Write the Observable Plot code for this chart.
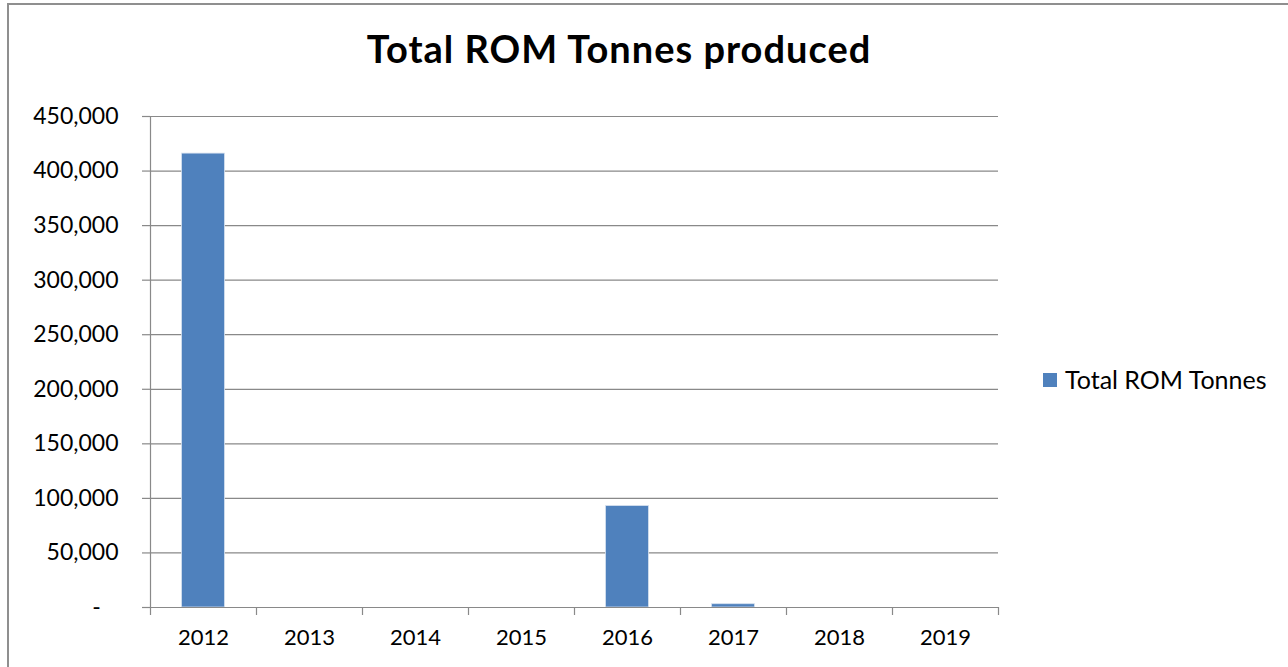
<!DOCTYPE html>
<html>
<head>
<meta charset="utf-8">
<script src="https://cdn.jsdelivr.net/npm/d3@7"></script>
<script src="https://cdn.jsdelivr.net/npm/@observablehq/plot@0.6"></script>
<style>
  html, body { margin: 0; padding: 0; background: #fff; }
  #wrap { position: relative; width: 1288px; height: 667px; overflow: hidden; font-family: Lato, "Open Sans", sans-serif; }
  #border { position: absolute; left: 7px; top: 3px; width: 1400px; height: 800px; border-left: 2px solid #8f8f8f; border-top: 2px solid #8f8f8f; }
  #title { position: absolute; left: 0; width: 1238px; top: 29px; text-align: center; font-weight: bold; font-size: 38px; line-height: 38px; letter-spacing: 1px; color: #000; white-space: nowrap; }
  #legend { position: absolute; left: 1043px; top: 367px; font-size: 25px; line-height: 25px; color: #000; white-space: nowrap; display: flex; align-items: center; }
  #legend .sw { display: inline-block; width: 14px; height: 14px; background: #4f81bd; margin-right: 8px; }
  #chart { position: absolute; left: 0; top: 0; }
</style>
</head>
<body>
<div id="wrap">
  <div id="border"></div>
  <div id="chart"></div>
  <div id="title"></div>
  <div id="legend"><span class="sw"></span><span id="legtext"></span></div>
</div>
<script>
const chartTitle = "Total ROM Tonnes produced";
const seriesName = "Total ROM Tonnes";
const years = ["2012", "2013", "2014", "2015", "2016", "2017", "2018", "2019"];
const tonnes = [416000, 0, 0, 0, 93000, 3000, 0, 0];
const yTicks = [0, 50000, 100000, 150000, 200000, 250000, 300000, 350000, 400000, 450000];

document.getElementById("title").textContent = chartTitle;
document.getElementById("legtext").textContent = seriesName;

const data = years.map((year, i) => ({year, tonnes: tonnes[i]}));
const fmt = d => d === 0 ? "-\u00a0\u00a0\u00a0" : d3.format(",")(d);

const W = 1288, H = 667, ML = 150, MR = 290;
const bw = (W - ML - MR) / years.length;
const axisGray = "#898989";

const chart = Plot.plot({
  width: W,
  height: H,
  marginLeft: ML,
  marginRight: MR,
  marginTop: 116,
  marginBottom: 60,
  x: {type: "band", domain: years, padding: 0, label: null},
  y: {domain: [0, 450000], label: null},
  style: {fontFamily: "Lato, 'Open Sans', sans-serif", fontSize: "22px", background: "transparent", color: "#000", overflow: "visible"},
  marks: [
    Plot.gridY(yTicks, {stroke: axisGray, strokeOpacity: 1, strokeWidth: 1.2}),
    Plot.barY(data, {x: "year", y: "tonnes", fill: "#4f81bd", insetLeft: 31.5, insetRight: 31.5, stroke: "#d6e1ef", strokeWidth: 0.8}),
    Plot.ruleY([0], {stroke: axisGray, strokeWidth: 1.2}),
    Plot.frame({anchor: "left", stroke: axisGray, strokeWidth: 1.2}),
    Plot.axisY(yTicks, {tickSize: 8, tickPadding: 24, tickFormat: fmt, stroke: axisGray, fill: "#000", strokeWidth: 1.2, fontSize: "23px"}),
    Plot.axisX({tickSize: 0, tickPadding: 22, fill: "#000"}),
    Plot.axisX(years, {tickSize: 8, tickFormat: () => "", dx: bw / 2, stroke: axisGray, strokeWidth: 1.2}),
    Plot.axisX([years[0]], {tickSize: 8, tickFormat: () => "", dx: -bw / 2, stroke: axisGray, strokeWidth: 1.2})
  ]
});
document.getElementById("chart").appendChild(chart);
</script>
</body>
</html>
